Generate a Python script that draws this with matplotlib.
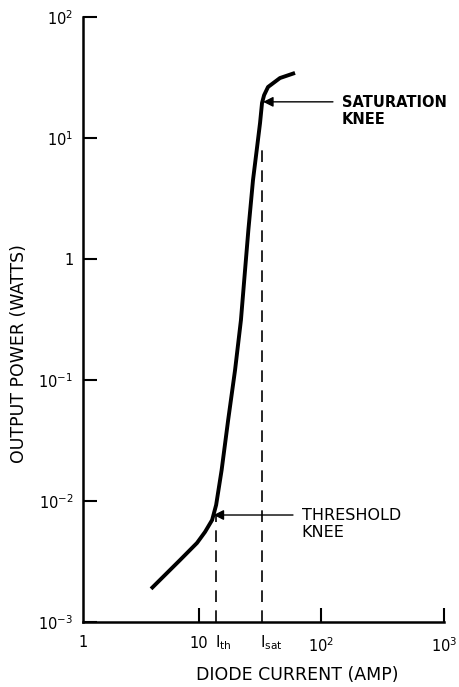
import matplotlib
matplotlib.use("Agg")
import matplotlib.pyplot as plt
from matplotlib.transforms import blended_transform_factory

# Data
current = [4.06, 7.0, 9.63, 11.2, 12.8, 13.8, 15.3, 17.3, 19.7, 22.0, 23.4, 25.3, 27.6, 29.6,
           31.5, 32.7, 34.0, 36.6, 45.8, 60.8]
power = [0.00188, 0.00325, 0.0045, 0.00555, 0.00697, 0.00927, 0.018, 0.0467, 0.121, 0.313, 0.67,
         1.74, 4.5, 7.96, 13.3, 19.5, 22.6, 26.4, 31.3, 34.5]
i_th = 13.8
i_sat = 32.7
th_knee = (12.9, 0.00766)
sat_knee = (32.7, 19.9)
x_ticks = [10, 100, 1000]
x_ticklabels = ["10", r"$\mathregular{10^2}$", r"$\mathregular{10^3}$"]
y_ticks = [1e-3, 1e-2, 1e-1, 1, 10, 100]
y_ticklabels = [r"$\mathregular{10^{-3}}$", r"$\mathregular{10^{-2}}$", r"$\mathregular{10^{-1}}$",
                "1", r"$\mathregular{10^{1}}$", r"$\mathregular{10^{2}}$"]

plt.rcParams['font.family'] = ['DejaVu Sans']
fig = plt.figure(figsize=(4.59, 6.87), dpi=100)
ax = fig.add_axes([83/459, 1-622/687, (444-83)/459, (622-17)/687])
ax.set_xscale('log')
ax.set_yscale('log')
ax.set_xlim(1.13, 1000)
ax.set_ylim(1e-3, 100)

ax.plot(current, power, color='black', lw=2.8, solid_capstyle='butt', solid_joinstyle='round')

ax.plot([i_th, i_th], [1e-3, th_knee[1]], color='black', lw=1.2, dashes=(7, 5))
ax.plot([i_sat, i_sat], [1e-3, sat_knee[1] * 0.45], color='black', lw=1.2, dashes=(7, 5))

ax.annotate("", xy=(th_knee[0] * 1.02, th_knee[1]), xytext=(58.5, th_knee[1]),
            arrowprops=dict(arrowstyle='-|>', color='black', lw=1.0, mutation_scale=15,
                            shrinkA=0, shrinkB=0))
ax.annotate("", xy=(sat_knee[0] * 1.02, sat_knee[1]), xytext=(124.0, sat_knee[1]),
            arrowprops=dict(arrowstyle='-|>', color='black', lw=1.0, mutation_scale=15,
                            shrinkA=0, shrinkB=0))

ax.text(69.0, th_knee[1] * 0.843, "THRESHOLD\nKNEE", fontsize=11.5, va='center', ha='left',
        linespacing=1.15)
ax.text(147.0, sat_knee[1] * 0.843, "SATURATION\nKNEE", fontsize=10.5, va='center', ha='left',
        linespacing=1.15, fontweight='bold')

for s in ['top', 'right']:
    ax.spines[s].set_visible(False)
for s in ['left', 'bottom']:
    ax.spines[s].set_linewidth(1.8)

ax.set_xticks(x_ticks)
ax.set_xticklabels(x_ticklabels, fontsize=10.5)
ax.set_yticks(y_ticks)
ax.set_yticklabels(y_ticklabels, fontsize=10.5)
ax.minorticks_off()
ax.tick_params(axis='y', direction='in', length=10, width=1.5, pad=7)
ax.tick_params(axis='x', direction='in', length=10, width=1.5, pad=10)

trans = blended_transform_factory(ax.transData, ax.transAxes)
ax.text(0.0, -0.022, "1", transform=ax.transAxes, fontsize=10.5, ha='center', va='top')
ax.text(i_th * 0.97, -0.018, r"$\mathregular{I_{th}}$", transform=trans, fontsize=11,
        ha='left', va='top')
ax.text(i_sat * 0.97, -0.018, r"$\mathregular{I_{sat}}$", transform=trans, fontsize=11,
        ha='left', va='top')

fig.text(297/459, 1-675/687, "DIODE CURRENT (AMP)", fontsize=12.5, ha='center', va='center')
fig.text(19/459, 1-354/687, "OUTPUT POWER (WATTS)", fontsize=12.5, ha='center', va='center',
         rotation=90)

fig.savefig("out.png", dpi=100)
